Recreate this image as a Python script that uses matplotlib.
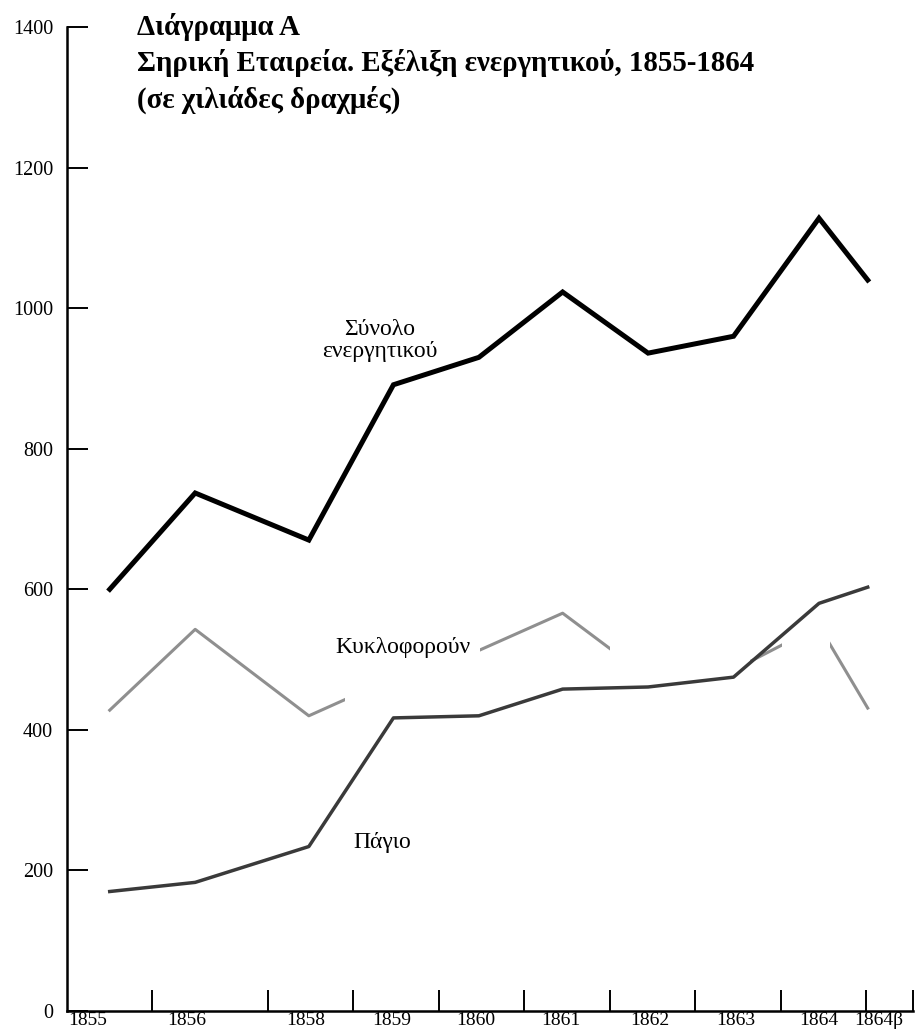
import matplotlib
matplotlib.use("Agg")
import matplotlib.pyplot as plt
from matplotlib.path import Path
import numpy as np

# ---- data ----
years = ["1855", "1856", "1858", "1859", "1860", "1861", "1862", "1863", "1864", "1864β"]
total_assets = [600, 737, 670, 891, 930, 1023, 936, 960, 1128, 1040]      # Σύνολο ενεργητικού
current_assets = [428, 543, 420, 474, 513, 566, 475, 485, 548, 431]       # Κυκλοφορούν
fixed_assets = [170, 183, 234, 417, 420, 458, 461, 475, 580, 603]         # Πάγιο
y_ticks = [0, 200, 400, 600, 800, 1000, 1200, 1400]

title_lines = ["Διάγραμμα Α",
               "Σηρική Εταιρεία. Εξέλιξη ενεργητικού, 1855-1864",
               "(σε χιλιάδες δραχμές)"]

# ---- layout (axis units: one unit ~ one year slot) ----
x_pos = [0.5, 1.5, 2.83, 3.82, 4.82, 5.8, 6.8, 7.8, 8.8, 9.37]
label_pos = [0.24, 1.4, 2.79, 3.8, 4.78, 5.78, 6.82, 7.83, 8.8, 9.5]
tick_pos = [1.0, 2.35, 3.35, 4.35, 5.35, 6.35, 7.35, 8.35, 9.35, 9.9]
visible_current = [(0.38, 3.25), (4.83, 6.36), (7.99, 8.37), (8.93, 9.42)]

serif = ["Liberation Serif", "DejaVu Serif"]
plt.rcParams["font.family"] = serif

fig = plt.figure(figsize=(9.15, 10.34), dpi=100)
ax = fig.add_axes([67 / 915, 23 / 1034, 846 / 915, 984 / 1034])
ax.set_xlim(0, 9.9)
ax.set_ylim(0, 1400)

for s in ["top", "right"]:
    ax.spines[s].set_visible(False)
for s in ["left", "bottom"]:
    ax.spines[s].set_linewidth(1.8)
    ax.spines[s].set_color("black")

ax.set_yticks(y_ticks)
ax.set_yticklabels([str(v) for v in y_ticks], fontsize=14.5)
ax.tick_params(axis="y", direction="in", length=15, width=1.4, pad=10)

ax.set_xticks(tick_pos)
ax.set_xticklabels([])
ax.tick_params(axis="x", which="major", direction="in", length=15, width=1.4)
ax.set_xticks(label_pos, minor=True)
ax.set_xticklabels(years, minor=True, fontsize=14)
ax.tick_params(axis="x", which="minor", length=0, pad=0.5)

# lines
ax.plot(x_pos, total_assets, color="black", lw=3.6, solid_joinstyle="miter", zorder=4)
ax.plot(x_pos, fixed_assets, color="#3a3a3a", lw=2.5, zorder=3)
cur, = ax.plot(x_pos, current_assets, color="#8f8f8f", lw=2.2, zorder=2)

verts, codes = [], []
for a, b in visible_current:
    verts += [(a, -100), (b, -100), (b, 2000), (a, 2000), (a, -100)]
    codes += [Path.MOVETO, Path.LINETO, Path.LINETO, Path.LINETO, Path.CLOSEPOLY]
cur.set_clip_path(Path(verts, codes), ax.transData)

# series labels
ax.text(3.66, 954, "Σύνολο\nενεργητικού", fontsize=17, ha="center", va="center",
        linespacing=1.1, zorder=1)
ax.text(3.93, 517, "Κυκλοφορούν", fontsize=17, ha="center", va="center")
ax.text(3.69, 240, "Πάγιο", fontsize=17, ha="center", va="center")

# title
for i, (t, yy) in enumerate(zip(title_lines, [27, 63, 100])):
    fig.text(137 / 915, 1 - yy / 1034, t, fontsize=20.8, fontweight="bold",
             ha="left", va="center")

fig.savefig("out.png", dpi=100)
